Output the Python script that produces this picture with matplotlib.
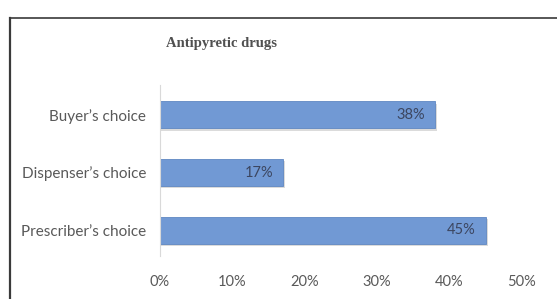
import matplotlib
matplotlib.use("Agg")
import matplotlib.pyplot as plt
from matplotlib.lines import Line2D

categories = ["Prescriber’s choice", "Dispenser’s choice", "Buyer’s choice"]
values = [45, 17, 38]
xticks = [0, 10, 20, 30, 40, 50]
xticklabels = ["0%", "10%", "20%", "30%", "40%", "50%"]
title = "Antipyretic drugs"

W, H = 557, 299
fig = plt.figure(figsize=(W / 100, H / 100), dpi=100)
fig.patch.set_facecolor("white")

# outer frame
fig.add_artist(Line2D([10 / W, 10 / W], [0, 1 - 18 / H], color="#3a3a3a", lw=1.6,
                      transform=fig.transFigure))
fig.add_artist(Line2D([10 / W, 1], [1 - 18 / H, 1 - 18 / H], color="#3a3a3a", lw=1.2,
                      transform=fig.transFigure))

ax = fig.add_axes([160 / W, 1 - 256 / H, (522 - 160) / W, (256 - 85) / H])
ypos = list(range(len(categories)))

# shadow
ax.barh([y - 0.04 for y in ypos], [v + 0.25 for v in values], height=0.47,
        color="#b8b8b8", alpha=0.5, zorder=1)
ax.barh(ypos, values, height=0.47, color="#7199d4", edgecolor="#5f87c2",
        linewidth=0.6, zorder=2)

for y, v in zip(ypos, values):
    ax.text(v - 1.4, y, f"{v}%", ha="right", va="center", fontsize=10.5,
            family="Lato", color="#3c4660", zorder=3)

ax.set_xlim(0, 50)
ax.set_ylim(-0.45, 2.52)
ax.set_xticks(xticks)
ax.set_xticklabels(xticklabels, family="Lato", fontsize=10.5, color="#595959")
ax.set_yticks(ypos)
ax.set_yticklabels(categories, family="Lato", fontsize=11, color="#595959")
ax.tick_params(length=0, pad=10)
ax.tick_params(axis="x", pad=14)
for s in ["top", "right", "bottom"]:
    ax.spines[s].set_visible(False)
ax.spines["left"].set_color("#d9d9d9")
ax.spines["left"].set_linewidth(0.8)

fig.text(222 / W, 1 - 43 / H, title, ha="center", va="center", fontsize=10.5,
         family="Liberation Serif", fontweight="bold", color="#505050")

fig.savefig("out.png", dpi=100)
